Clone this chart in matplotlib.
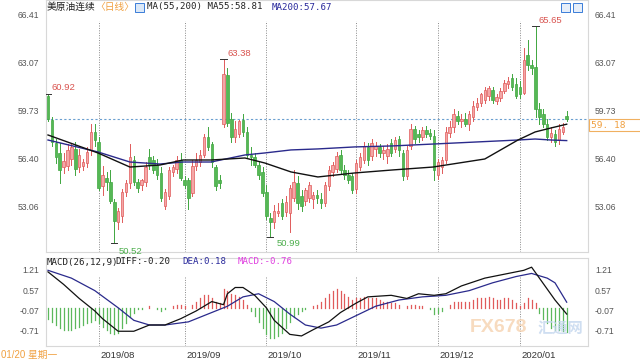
import matplotlib
matplotlib.use('Agg')
import matplotlib.pyplot as plt
from matplotlib.patches import Rectangle
import numpy as np

plt.rcParams['font.family'] = ['Liberation Sans', 'Noto Sans CJK SC', 'DejaVu Sans']

# ---------------- data ----------------
month_labels = ['2019/08', '2019/09', '2019/10', '2019/11', '2019/12', '2020/01']
month_start = [13, 35, 56, 79, 100, 121]

opens = [60.75, 59.10, 57.50, 56.80, 55.80, 55.90, 56.40, 57.10, 55.80, 55.90, 56.10, 57.00, 58.30,
         57.60, 54.50, 55.10, 54.80, 53.40, 52.00, 52.40, 54.10, 54.70, 56.30, 54.80, 54.60, 54.80, 56.50,
         56.30, 56.00, 55.40, 53.10, 53.80, 55.50, 55.70, 56.30,
         54.90, 54.90, 54.00, 55.90, 56.20, 56.70, 57.90, 57.40, 55.80, 54.90, 58.80, 62.20, 59.20, 57.90,
         58.10, 59.10, 58.30, 56.70, 56.50, 56.00, 55.50,
         54.10, 52.30, 52.00, 52.60, 53.30, 52.70, 52.60, 53.70, 54.70, 53.80, 53.50, 53.70, 53.60, 53.90,
         53.60, 53.30, 54.50, 55.50, 55.70, 56.70, 55.60, 55.30, 55.20,
         54.30, 55.80, 56.30, 57.20, 56.60, 57.10, 57.20, 56.80, 56.60, 57.50, 57.10, 57.80, 56.80, 55.20,
         57.30, 58.50, 58.10, 57.90, 58.40, 58.20, 58.00,
         55.30, 55.80, 56.30, 58.20, 58.60, 59.40, 59.00, 59.20, 58.80, 59.30, 60.00, 60.30, 60.50, 60.80,
         61.20, 60.40, 60.60, 61.10, 61.60, 62.00, 61.60,
         61.40, 61.00, 63.60, 62.90, 62.80, 59.90, 59.50, 58.80, 57.90, 58.10, 57.70, 58.30, 59.40]
highs = [60.92, 59.30, 57.80, 57.50, 56.80, 57.40, 57.50, 57.60, 57.10, 56.40, 57.20, 58.80, 58.80,
         57.90, 55.90, 55.50, 55.60, 53.60, 53.00, 54.30, 54.90, 57.40, 56.60, 55.00, 55.00, 56.20, 57.10,
         56.60, 56.40, 55.80, 54.30, 55.80, 56.00, 56.60, 56.80,
         55.20, 55.10, 56.30, 56.80, 57.00, 58.10, 58.60, 57.60, 56.00, 55.30, 63.38, 62.70, 59.60, 59.00,
         59.10, 59.50, 58.60, 57.20, 56.80, 56.20, 55.80,
         54.60, 52.60, 53.20, 53.30, 53.60, 53.80, 54.60, 55.60, 55.20, 54.20, 54.40, 54.80, 54.10, 54.20,
         54.00, 54.80, 55.90, 56.20, 56.90, 57.00, 56.00, 55.60, 55.40,
         56.30, 56.80, 57.60, 57.50, 57.80, 57.60, 57.40, 57.30, 57.40, 57.80, 57.90, 58.00, 57.00, 57.30,
         58.80, 58.70, 58.40, 58.60, 58.70, 58.50, 58.40,
         56.40, 56.50, 58.60, 59.00, 59.90, 59.70, 59.50, 59.60, 59.70, 60.40, 60.60, 61.00, 61.40, 61.50,
         61.40, 60.90, 61.30, 61.90, 62.10, 62.30, 62.00,
         61.80, 64.10, 64.70, 63.30, 65.65, 60.30, 59.90, 59.20, 58.60, 58.40, 58.80, 58.90, 59.70]
lows = [59.00, 57.30, 56.10, 54.70, 55.40, 55.60, 56.00, 55.30, 55.50, 55.60, 55.80, 56.70, 57.30,
        54.20, 53.90, 54.20, 53.30, 50.52, 51.50, 52.00, 53.80, 54.40, 54.60, 54.10, 54.20, 54.50, 55.70,
        55.40, 55.00, 53.50, 52.90, 53.60, 55.20, 55.40, 54.90,
        54.40, 52.90, 53.80, 55.60, 55.90, 56.50, 57.00, 55.80, 54.20, 54.40, 58.60, 58.70, 57.60, 57.60,
        57.90, 58.00, 56.50, 56.00, 55.80, 55.00, 53.80,
        52.20, 50.99, 51.60, 52.40, 52.20, 52.40, 51.30, 53.50, 52.90, 52.80, 53.20, 53.40, 53.00, 53.30,
        53.00, 53.10, 54.20, 55.20, 55.50, 55.40, 55.00, 54.70, 54.00,
        54.00, 55.60, 56.10, 56.00, 56.30, 56.60, 56.50, 56.40, 56.10, 56.60, 56.90, 56.60, 54.90, 55.00,
        57.10, 57.50, 57.60, 57.70, 57.90, 57.80, 54.90,
        55.00, 55.40, 56.10, 57.90, 58.30, 58.80, 58.60, 58.70, 58.40, 59.00, 59.80, 60.10, 60.30, 60.50,
        60.30, 60.20, 60.40, 61.00, 61.30, 61.20, 60.60,
        60.60, 60.90, 62.60, 62.30, 59.30, 58.80, 58.60, 57.70, 57.60, 57.30, 57.40, 58.10, 59.00]
closes = [59.15, 57.55, 56.55, 55.60, 56.25, 57.00, 57.20, 55.70, 56.70, 56.20, 56.90, 58.30, 57.70,
          54.40, 55.30, 54.80, 53.50, 52.10, 52.80, 54.10, 54.70, 56.50, 54.80, 54.40, 54.90, 55.80, 56.00,
          55.60, 55.30, 53.70, 54.10, 55.60, 55.80, 56.30, 55.10,
          54.60, 53.70, 55.90, 56.30, 56.70, 57.90, 57.20, 56.20, 54.50, 54.70, 62.30, 58.90, 57.90, 58.50,
          59.00, 58.30, 56.70, 56.50, 56.00, 55.30, 54.00,
          52.40, 52.00, 52.80, 52.80, 52.40, 53.40, 54.40, 54.80, 53.30, 53.10, 54.20, 54.60, 53.90, 53.70,
          53.30, 54.60, 55.60, 56.00, 56.60, 55.60, 55.30, 54.90, 54.20,
          56.10, 56.50, 57.30, 56.30, 57.50, 57.30, 56.80, 57.00, 57.10, 56.80, 57.70, 57.00, 55.20, 57.00,
          58.50, 57.80, 57.90, 58.40, 58.10, 58.00, 55.60,
          56.20, 56.30, 58.30, 58.60, 59.50, 59.00, 59.20, 58.80, 59.50, 60.10, 60.30, 60.90, 61.20, 61.30,
          60.50, 60.70, 61.10, 61.70, 61.80, 61.40, 60.80,
          60.90, 63.30, 62.90, 62.70, 59.90, 59.30, 58.80, 57.90, 58.20, 57.60, 58.50, 58.60, 59.18]

# moving averages (at knots: candle index, value)
ma55_idx = [0, 12.8, 21, 28.7, 34.6, 41.8, 50.5, 55.6, 62.3, 69.2, 78.7, 88.5, 98.7, 112, 120.5, 124.9, 129, 133]
ma55_val = [58.06, 56.81, 55.83, 55.97, 56.32, 56.32, 56.46, 56.11, 55.49, 55.14, 55.42, 55.63, 55.83,
            56.39, 57.71, 58.27, 58.55, 58.81]
ma200_idx = [0, 12.8, 21, 28.7, 34.6, 41.8, 50.5, 55.6, 62.3, 69.2, 78.7, 88.5, 98.7, 120.5, 124.9, 129, 133]
ma200_val = [57.71, 56.88, 56.18, 56.04, 56.18, 56.18, 56.67, 56.81, 57.02, 57.09, 57.23, 57.30, 57.43,
             57.71, 57.78, 57.71, 57.67]

# MACD lines (knots) and histogram (per candle)
diff_idx = [0, 4, 8, 12, 14, 18, 22, 26, 30, 34, 38, 42, 45, 46, 48, 50, 53, 56, 58, 62, 65, 68, 72, 75,
            79, 82, 88, 92, 95, 99, 102, 106, 112, 118, 122, 124, 126, 128, 130, 133]
diff_val = [1.15, 0.75, 0.30, -0.10, -0.35, -0.75, -0.75, -0.55, -0.55, -0.35, -0.10, 0.20, 0.10, 0.45,
            0.65, 0.65, 0.40, 0.00, -0.40, -0.85, -0.90, -0.70, -0.45, -0.15, 0.15, 0.35, 0.40, 0.30, 0.45,
            0.40, 0.45, 0.70, 0.95, 1.10, 1.20, 1.30, 0.95, 0.60, 0.25, -0.20]
dea_idx = [0, 6, 12, 18, 22, 26, 30, 36, 42, 46, 50, 54, 58, 62, 66, 70, 74, 79, 84, 90, 96, 102, 108,
           114, 120, 124, 128, 130, 133]
dea_val = [1.20, 0.95, 0.55, 0.00, -0.40, -0.55, -0.55, -0.45, -0.15, 0.05, 0.35, 0.45, 0.20, -0.20,
           -0.55, -0.65, -0.55, -0.25, 0.05, 0.25, 0.35, 0.40, 0.55, 0.80, 1.00, 1.10, 0.95, 0.80, 0.18]
macd_hist = ([-0.35, -0.45, -0.55, -0.65, -0.70, -0.70, -0.70, -0.65, -0.60, -0.55, -0.50, -0.45, -0.40] +
             [-0.50, -0.60, -0.70, -0.80, -0.85, -0.80, -0.65, -0.50, -0.30, -0.15, -0.05, -0.05, 0.00, 0.05,
              0.00, -0.05, -0.10, -0.05, 0.00, 0.05, 0.10, 0.10] +
             [0.05, 0.00, 0.10, 0.20, 0.30, 0.40, 0.40, 0.30, 0.20, 0.15, 0.60, 0.55, 0.45, 0.40, 0.35, 0.25,
              0.10, -0.10, -0.25, -0.45, -0.65] +
             [-0.85, -0.95, -0.95, -0.90, -0.80, -0.65, -0.45, -0.30, -0.20, -0.10, -0.05, 0.00, 0.05, 0.10,
              0.20, 0.30, 0.45, 0.55, 0.60, 0.55, 0.45, 0.35, 0.25] +
             [0.30, 0.30, 0.35, 0.30, 0.30, 0.30, 0.25, 0.20, 0.20, 0.15, 0.15, 0.10, 0.00, 0.05, 0.10, 0.10,
              0.05, 0.05, 0.00, -0.05, -0.20] +
             [-0.15, -0.10, 0.00, 0.10, 0.20, 0.20, 0.20, 0.20, 0.20, 0.25, 0.30, 0.30, 0.30, 0.35, 0.30, 0.25,
              0.25, 0.30, 0.30, 0.25, 0.15] +
             [0.05, 0.15, 0.30, 0.25, 0.15, -0.15, -0.35, -0.50, -0.65, -0.70, -0.72, -0.75, -0.76])

price_ticks = [53.06, 56.40, 59.73, 63.07, 66.41]
macd_ticks = [-0.71, -0.07, 0.57, 1.21]
last_price = 59.18

# ---------------- figure ----------------
W, H = 640, 364
fig = plt.figure(figsize=(W / 100, H / 100), dpi=100)
fig.patch.set_facecolor('white')

def fx(px):
    return px / W

def fy(py):
    return 1 - py / H

L, R = 46, 588
ax = fig.add_axes([fx(L), fy(252), (R - L) / W, 252 / H])
mx = fig.add_axes([fx(L), fy(346), (R - L) / W, 88 / H])

n = len(closes)
xmin, xmax = (L - 48) / 3.9, (R - 48) / 3.9
for a in (ax, mx):
    a.set_xlim(xmin, xmax)
    for s in a.spines.values():
        s.set_color('#d8d8d8')
        s.set_linewidth(0.8)
    a.set_xticks([])

ax.set_ylim(49.92, 67.45)
mx.set_ylim(-1.222, 1.594)

UP_E, UP_F = '#e05a5a', '#f4a6a6'
DN_E, DN_F = '#3fa63f', '#55b855'

# month separators
for m in month_start:
    ax.plot([m, m], [49.92, 66.0], color='#888888', lw=0.7, ls=(0, (1, 1.5)), zorder=1)
    mx.plot([m, m], [-1.222, 1.0], color='#888888', lw=0.7, ls=(0, (1, 1.5)), zorder=1)

# candles
bw = 0.66
for i in range(n):
    o, h, l, c = opens[i], highs[i], lows[i], closes[i]
    up = c >= o
    ec = UP_E if up else DN_E
    fc = UP_F if up else DN_F
    ax.plot([i, i], [l, h], color=ec, lw=0.7, zorder=3)
    ax.add_patch(Rectangle((i - bw / 2, min(o, c)), bw, max(abs(c - o), 0.03),
                           facecolor=fc, edgecolor=ec, lw=0.5, zorder=4))

ax.plot(ma200_idx, ma200_val, color='#2a2a8c', lw=1.0, zorder=5)
ax.plot(ma55_idx, ma55_val, color='#111111', lw=1.0, zorder=5)

ax.axhline(last_price, color='#6a9fd0', lw=0.8, ls=(0, (2, 2)), zorder=2)

# price ticks on both sides
ax.set_yticks(price_ticks)
ax.set_yticklabels([f'{v:.2f}' for v in price_ticks])
ax.tick_params(axis='y', length=0, labelsize=6.2, labelcolor='#555555', pad=5,
               labelleft=True, labelright=True)

mx.set_yticks(macd_ticks)
mx.set_yticklabels([f'{v:.2f}' for v in macd_ticks])
mx.tick_params(axis='y', length=0, labelsize=6.2, labelcolor='#555555', pad=5,
               labelleft=True, labelright=True)

# extreme labels
def ann(i, p, txt, dx, dy, col):
    ax.plot([i - 0.8, i + 0.8], [p, p], color='#333333', lw=0.7, zorder=6)
    ax.annotate(txt, (i, p), xytext=(dx * 0.72, dy * 0.72), textcoords='offset points',
                fontsize=6.8, color=col, ha='left', va='center', zorder=7,
                annotation_clip=False)

ann(0, 60.92, '60.92', 4, 6, '#d9534f')
ann(45, 63.38, '63.38', 4, 5.5, '#d9534f')
ann(125, 65.65, '65.65', 3, 5, '#d9534f')
ann(57, 50.99, '50.99', 6, -7, '#4cae4c')
ann(17, 50.52, '50.52', 4, -8, '#4cae4c')

# MACD
for i, v in enumerate(macd_hist):
    mx.plot([i, i], [0, v], color=(UP_E if v >= 0 else '#5cb85c'), lw=0.9, zorder=2)
mx.plot(dea_idx, dea_val, color='#2a2a8c', lw=0.9, zorder=4)
mx.plot(diff_idx, diff_val, color='#111111', lw=0.9, zorder=5)

# month labels
for m, lab in zip(month_start, month_labels):
    mx.text(m + 0.4, -0.105, lab, transform=mx.get_xaxis_transform(), fontsize=6.8,
            color='#333333', ha='left', va='center')

# legends
def ftxt(x, y, s, **kw):
    return fig.text(fx(x), fy(y), s, ha='left', va='center', **kw)

ftxt(47, 7, '美原油连续', fontsize=7, color='#222222', family=['Noto Sans CJK SC'])
ftxt(95, 7, '〈日线〉', fontsize=7, color='#f0a040', family=['Noto Sans CJK SC'])
fig.patches.append(Rectangle((fx(135), fy(12)), 9 / W, 9 / H, transform=fig.transFigure,
                             facecolor='#dbe8f7', edgecolor='#3b7dd8', lw=0.7))
ftxt(147, 7, 'MA(55,200) MA55:58.81', fontsize=6.6, color='#222222', family=['DejaVu Sans Mono'])
ftxt(272, 7, 'MA200:57.67', fontsize=6.6, color='#2a2a9c', family=['DejaVu Sans Mono'])

ftxt(47, 262, 'MACD(26,12,9)', fontsize=6.6, color='#222222', family=['DejaVu Sans Mono'])
ftxt(115, 262, 'DIFF:-0.20', fontsize=6.6, color='#222222', family=['DejaVu Sans Mono'])
ftxt(182, 262, 'DEA:0.18', fontsize=6.6, color='#2a2a9c', family=['DejaVu Sans Mono'])
ftxt(238, 262, 'MACD:-0.76', fontsize=6.6, color='#e040e0', family=['DejaVu Sans Mono'])

# top-right icons
for x0 in (561, 573):
    fig.patches.append(Rectangle((fx(x0), fy(12)), 9 / W, 9 / H, transform=fig.transFigure,
                                 facecolor='#e6eef9', edgecolor='#3b7dd8', lw=0.7))

# current price box
fig.patches.append(Rectangle((fx(589), fy(131)), 52 / W, 12 / H, transform=fig.transFigure,
                             facecolor='white', edgecolor='#f0b060', lw=0.8))
fig.text(fx(591), fy(125), '59. 18', fontsize=6.8, color='#f0a040', ha='left', va='center',
         family=['DejaVu Sans Mono'])

# date / weekday bottom-left
fig.text(fx(1), fy(355), '01/20 星期一', fontsize=7, color='#f0a040', ha='left', va='center',
         family=['Liberation Sans', 'Noto Sans CJK SC'])

# watermark
fig.text(fx(470), fy(328), 'FX678', fontsize=14, color='#f6d2b0', ha='left', va='center',
         fontweight='bold', alpha=0.8)
fig.text(fx(538), fy(328), '汇通网', fontsize=11, color='#c3d6ee', ha='left', va='center',
         family=['Noto Sans CJK SC'], fontweight='bold', alpha=0.8)

fig.savefig('out.png', dpi=100)
